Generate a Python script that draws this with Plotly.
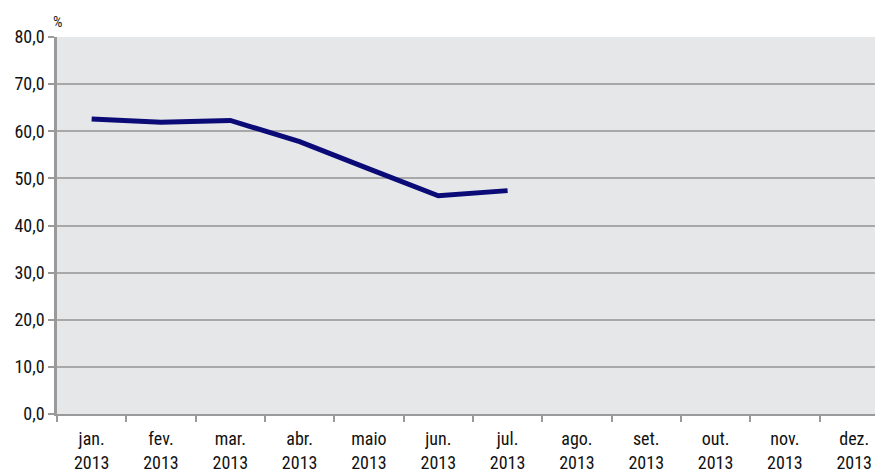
import plotly.graph_objects as go

months = ["jan.<br>2013", "fev.<br>2013", "mar.<br>2013", "abr.<br>2013", "maio<br>2013",
          "jun.<br>2013", "jul.<br>2013", "ago.<br>2013", "set.<br>2013", "out.<br>2013",
          "nov.<br>2013", "dez.<br>2013"]
values = [62.6, 61.9, 62.3, 57.8, 52.0, 46.3, 47.4]
y_ticks = [0, 10, 20, 30, 40, 50, 60, 70, 80]

FONT = "Liberation Sans Narrow, Roboto Condensed, Arial Narrow, sans-serif"

fig = go.Figure()
fig.add_trace(go.Scatter(
    x=months[:len(values)], y=values, mode="lines",
    line=dict(color="#0b0b78", width=5),
    hoverinfo="skip", showlegend=False,
))

fig.update_layout(
    width=875, height=473,
    margin=dict(l=57, r=0, t=37, b=59),
    paper_bgcolor="white",
    plot_bgcolor="#e6e7e8",
    separators=",.",
    font=dict(family=FONT, size=18, color="#111111"),
    xaxis=dict(
        type="category", categoryorder="array", categoryarray=months,
        range=[-0.5, 11.3],
        showgrid=False, zeroline=False,
        showline=True, linecolor="#9a9a9a", linewidth=1.5,
        ticks="outside", tickson="boundaries", ticklen=6, tickcolor="#9a9a9a", tickwidth=1.5,
        ticklabelstandoff=8,
        tickfont=dict(family=FONT, size=18, color="#111111"),
        fixedrange=True,
    ),
    yaxis=dict(
        range=[0, 80], tickvals=y_ticks, tickformat=".1f",
        showgrid=True, gridcolor="#a8a8a8", gridwidth=1.5,
        zeroline=False,
        showline=True, linecolor="#9a9a9a", linewidth=2.5,
        ticks="outside", ticklen=6, tickcolor="#9a9a9a", tickwidth=1.5,
        tickfont=dict(family=FONT, size=18, color="#111111"),
        fixedrange=True,
    ),
    annotations=[dict(
        text="%", xref="paper", yref="paper", x=0, y=1, xanchor="left", yanchor="bottom",
        xshift=-6, yshift=4, showarrow=False,
        font=dict(family=FONT, size=15, color="#222222"),
    )],
)

fig.write_html(
    "out.html",
    config={"displayModeBar": False},
    post_script="document.body.style.margin='0';document.body.style.overflow='hidden';",
)
